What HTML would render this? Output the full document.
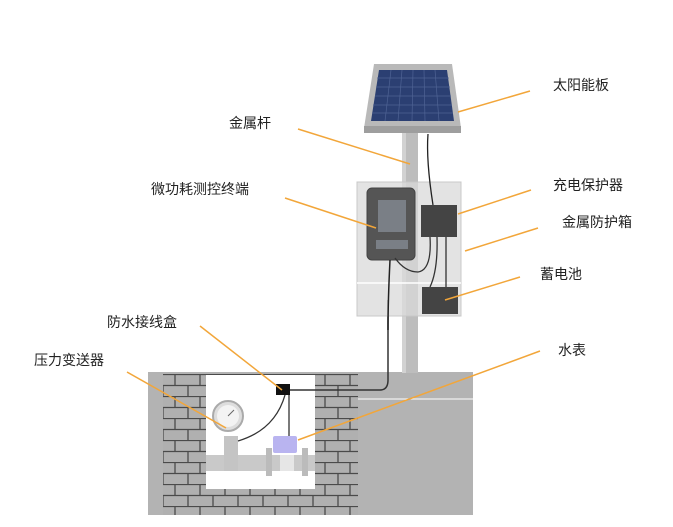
<!DOCTYPE html>
<html><head><meta charset="utf-8"><style>
html,body{margin:0;padding:0;background:#fff;width:673px;height:527px;overflow:hidden}
text{font-family:"Liberation Sans","Noto Sans CJK SC",sans-serif;font-size:14px;fill:#222}
</style></head><body>
<svg width="673" height="527" viewBox="0 0 673 527" xmlns="http://www.w3.org/2000/svg">
<defs>
<pattern id="brick" x="163" y="374" width="50" height="22" patternUnits="userSpaceOnUse">
<rect width="50" height="22" fill="#b0b0b0"/>
<path d="M0 0.5H50M0 11.5H50M12 0V11M37 0V11M0 11V22M25 11V22M50 11V22" stroke="#4a4a4a" stroke-width="1.3"/>
</pattern>
</defs>
<!-- ground -->
<rect x="148" y="372" width="325" height="143" fill="#b3b3b3"/>
<rect x="163" y="374" width="195" height="141" fill="url(#brick)"/>
<rect x="148" y="372" width="15" height="143" fill="#b3b3b3"/>
<rect x="206" y="375" width="109" height="114" fill="#fff"/>
<line x1="358" y1="399" x2="473" y2="399" stroke="#fff" stroke-width="1"/>
<!-- pipe -->
<rect x="206" y="455" width="109" height="16" fill="#c9c9c9"/>
<rect x="224" y="436" width="14" height="35" fill="#c4c4c4"/>
<circle cx="228" cy="416" r="15" fill="#ddd" stroke="#aaa" stroke-width="2"/>
<circle cx="228" cy="416" r="11" fill="#f3f3f3"/>
<line x1="228" y1="416" x2="234" y2="410" stroke="#666" stroke-width="1"/>
<rect x="266" y="448" width="6" height="28" fill="#bbb"/>
<rect x="302" y="448" width="6" height="28" fill="#bbb"/>
<rect x="280" y="455" width="14" height="16" fill="#e6e6e6"/>
<rect x="273" y="436" width="24" height="17" rx="2" fill="#b9b4f0"/>
<rect x="276" y="384" width="14" height="11" fill="#111"/>
<path d="M290 390H380Q388 390 388 380V300" stroke="#333" stroke-width="1.5" fill="none"/>
<path d="M285 395Q275 430 238 441" stroke="#333" stroke-width="1.3" fill="none"/>
<line x1="289" y1="395" x2="289" y2="436" stroke="#333" stroke-width="1.3"/>
<!-- pole -->
<rect x="402" y="128" width="16" height="245" fill="#bdbdbd"/>
<rect x="402" y="128" width="4" height="245" fill="#d2d2d2"/>
<!-- solar panel -->
<polygon points="374,64 452,64 461,128 364,128" fill="#b9b9b9"/>
<rect x="364" y="126" width="97" height="7" fill="#9e9e9e"/>
<polygon points="379,70 447,70 454,121 371,121" fill="#2b3f72"/>
<g stroke="#4f6394" stroke-width="0.7">
<line x1="377" y1="78" x2="449" y2="78"/><line x1="376" y1="87" x2="450" y2="87"/><line x1="375" y1="96" x2="451" y2="96"/><line x1="373" y1="105" x2="452" y2="105"/><line x1="372" y1="113" x2="453" y2="113"/>
<line x1="391" y1="70" x2="385" y2="121"/><line x1="402" y1="70" x2="398" y2="121"/><line x1="413" y1="70" x2="412" y2="121"/><line x1="424" y1="70" x2="425" y2="121"/><line x1="435" y1="70" x2="439" y2="121"/>
</g>
<!-- enclosure -->
<rect x="357" y="182" width="104" height="134" fill="#d9d9d9" fill-opacity="0.75" stroke="#c8c8c8"/>
<line x1="357" y1="283" x2="461" y2="283" stroke="#fff" stroke-width="1.5"/>
<path d="M428 134Q426 160 433 205" stroke="#222" stroke-width="1.3" fill="none"/>
<rect x="367" y="188" width="48" height="72" rx="5" fill="#555" stroke="#444"/>
<rect x="378" y="200" width="28" height="32" fill="#7a7f86"/>
<rect x="376" y="240" width="32" height="9" fill="#7a7f86"/>
<rect x="421" y="205" width="36" height="32" fill="#444"/>
<rect x="422" y="287" width="36" height="27" fill="#444"/>
<path d="M430 237Q432 270 418 272 Q405 272 395 258" stroke="#333" stroke-width="1.3" fill="none"/>
<path d="M437 237Q438 270 430 287" stroke="#333" stroke-width="1.3" fill="none"/>
<path d="M446 237V287" stroke="#333" stroke-width="1.3" fill="none"/>
<path d="M390 260Q388 300 388 330" stroke="#222" stroke-width="1.5" fill="none"/>
<!-- leader lines -->
<g stroke="#f2a63a" stroke-width="1.5">
<line x1="530" y1="91" x2="458" y2="112"/>
<line x1="298" y1="129" x2="410" y2="164"/>
<line x1="531" y1="190" x2="458" y2="214"/>
<line x1="285" y1="198" x2="376" y2="228"/>
<line x1="538" y1="228" x2="465" y2="251"/>
<line x1="520" y1="277" x2="445" y2="300"/>
<line x1="200" y1="326" x2="282" y2="390"/>
<line x1="540" y1="351" x2="298" y2="440"/>
<line x1="127" y1="372" x2="226" y2="428"/>
</g>
<!-- labels -->
<text x="553" y="90">太阳能板</text>
<text x="229" y="128">金属杆</text>
<text x="553" y="190">充电保护器</text>
<text x="151" y="194">微功耗测控终端</text>
<text x="562" y="227">金属防护箱</text>
<text x="540" y="279">蓄电池</text>
<text x="107" y="327">防水接线盒</text>
<text x="558" y="355">水表</text>
<text x="34" y="365">压力变送器</text>
</svg>
</body></html>
